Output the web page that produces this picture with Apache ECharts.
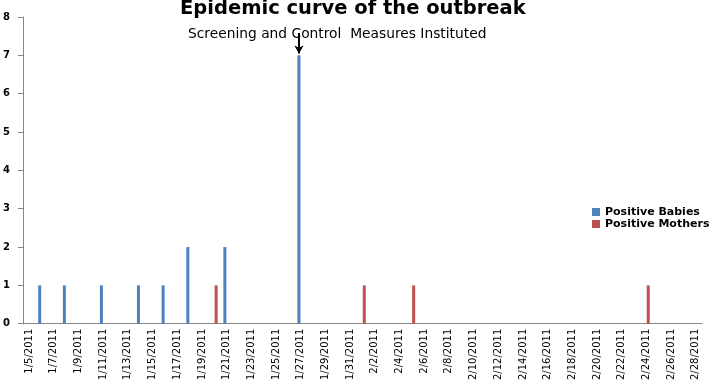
<!DOCTYPE html>
<html>
<head>
<meta charset="utf-8">
<script src="https://cdn.jsdelivr.net/npm/echarts@6/dist/echarts.min.js"></script>
<style>
  html, body { margin: 0; padding: 0; background: #fff; }
  #chart-container { width: 709px; height: 383px; }
</style>
</head>
<body>
<div id="chart-container"></div>
<script>
var dates = [
  '1/5/2011', '1/6/2011', '1/7/2011', '1/8/2011', '1/9/2011', '1/10/2011', '1/11/2011',
  '1/12/2011', '1/13/2011', '1/14/2011', '1/15/2011', '1/16/2011', '1/17/2011', '1/18/2011',
  '1/19/2011', '1/20/2011', '1/21/2011', '1/22/2011', '1/23/2011', '1/24/2011', '1/25/2011',
  '1/26/2011', '1/27/2011', '1/28/2011', '1/29/2011', '1/30/2011', '1/31/2011', '2/1/2011',
  '2/2/2011', '2/3/2011', '2/4/2011', '2/5/2011', '2/6/2011', '2/7/2011', '2/8/2011',
  '2/9/2011', '2/10/2011', '2/11/2011', '2/12/2011', '2/13/2011', '2/14/2011', '2/15/2011',
  '2/16/2011', '2/17/2011', '2/18/2011', '2/19/2011', '2/20/2011', '2/21/2011', '2/22/2011',
  '2/23/2011', '2/24/2011', '2/25/2011', '2/26/2011', '2/27/2011', '2/28/2011'
];

// cases per day, only days with cases
var positiveBabies = [
  ['1/6/2011', 1], ['1/8/2011', 1], ['1/11/2011', 1], ['1/14/2011', 1],
  ['1/16/2011', 1], ['1/18/2011', 2], ['1/21/2011', 2], ['1/27/2011', 7]
];
var positiveMothers = [
  ['1/20/2011', 1], ['2/1/2011', 1], ['2/5/2011', 1], ['2/24/2011', 1]
];

var interventionDay = '1/27/2011';
var yTicks = [0, 1, 2, 3, 4, 5, 6, 7, 8];

var dom = document.getElementById('chart-container');
var myChart = echarts.init(dom, null, { renderer: 'canvas' });

var font = '"DejaVu Sans", sans-serif';

var option = {
  animation: false,
  backgroundColor: '#fff',
  title: [
    {
      text: 'Epidemic curve of the outbreak',
      left: 180,
      top: -1,
      padding: 0,
      textStyle: { fontSize: 19.5, fontWeight: 'bold', color: '#000', fontFamily: font }
    },
    {
      text: 'Screening and Control  Measures Instituted',
      left: 188,
      top: 27,
      padding: 0,
      textStyle: { fontSize: 13.8, fontWeight: 'normal', color: '#000', fontFamily: font }
    }
  ],
  legend: {
    orient: 'vertical',
    left: 592,
    top: 206,
    padding: 0,
    itemWidth: 8,
    itemHeight: 8,
    itemGap: 0,
    icon: 'rect',
    textStyle: { fontSize: 11, fontWeight: 'bold', color: '#000', fontFamily: font, lineHeight: 12 },
    data: ['Positive Babies', 'Positive Mothers']
  },
  grid: { left: 22, right: 7, top: 17, bottom: 57, containLabel: false },
  xAxis: {
    type: 'category',
    data: dates,
    boundaryGap: true,
    axisLine: { lineStyle: { color: '#868686', width: 1 } },
    axisTick: { interval: 1, length: 5, lineStyle: { color: '#868686' } },
    axisLabel: {
      interval: 1,
      rotate: 90,
      margin: 5,
      fontSize: 10,
      color: '#000',
      fontFamily: font
    },
    splitLine: { show: false }
  },
  yAxis: {
    type: 'value',
    min: yTicks[0],
    max: yTicks[yTicks.length - 1],
    interval: 1,
    axisLine: { show: true, lineStyle: { color: '#868686', width: 1 } },
    axisTick: { show: true, length: 5, lineStyle: { color: '#868686' } },
    axisLabel: { fontSize: 10, fontWeight: 'bold', color: '#000', margin: 13, fontFamily: font },
    splitLine: { show: false }
  },
  series: [
    {
      name: 'Positive Babies',
      type: 'bar',
      data: positiveBabies,
      barWidth: 3,
      barGap: '20%',
      itemStyle: { color: '#4F81BD' },
      markLine: {
        silent: true,
        symbol: ['none', 'arrow'],
        symbolSize: [7, 8],
        label: { show: false },
        lineStyle: { color: '#000', width: 2, type: 'solid' },
        data: [[
          { coord: [interventionDay, 7.58] },
          { coord: [interventionDay, 7.05] }
        ]]
      }
    },
    {
      name: 'Positive Mothers',
      type: 'bar',
      data: positiveMothers,
      barWidth: 3,
      barGap: '20%',
      itemStyle: { color: '#C0504D' }
    }
  ]
};

myChart.setOption(option);
window.addEventListener('resize', myChart.resize);
</script>
</body>
</html>
